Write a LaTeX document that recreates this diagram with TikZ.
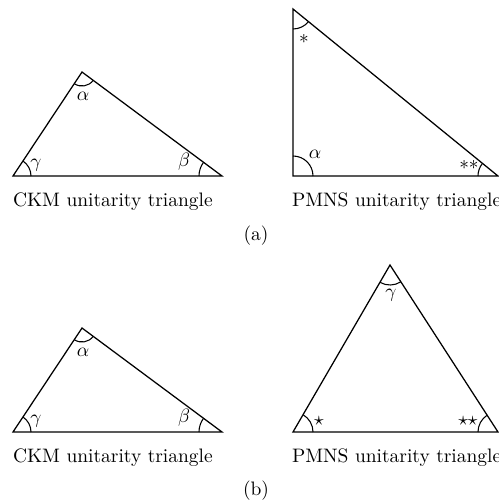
\documentclass[tikz,border=0pt]{standalone}
\usetikzlibrary{angles}
\begin{document}
\begin{tikzpicture}[x=0.5176pt,y=-0.5176pt,
  every node/.style={font=\fontsize{10.08}{12.1}\selectfont},
  side/.style={line width=0.65pt},
  ang/.style={draw,line width=0.55pt},
  lbl/.style={inner sep=0pt,outer sep=0pt},
  captext/.style={inner sep=0pt,outer sep=0pt,anchor=base west}]
\clip (0,0) rectangle (499,503);
\useasboundingbox (0,0) rectangle (499,503);
% ---------- (a) CKM ----------
\coordinate (ca1) at (13,176);
\coordinate (cb1) at (82,72);
\coordinate (cc1) at (222,176);
\draw[side] (ca1) -- (cb1) -- (cc1) -- cycle;
\pic[ang, angle radius=18*0.5176pt] {angle = cc1--ca1--cb1};
\pic[ang, angle radius=14*0.5176pt] {angle = ca1--cb1--cc1};
\pic[ang, angle radius=23*0.5176pt] {angle = cb1--cc1--ca1};
\node[lbl] (g1) at (36,165) {$\gamma$};
\node[lbl] (al1) at (83,96) {$\alpha$};
\node[lbl] (be1) at (184,162) {$\beta$};
\node[captext] (t1) at (13,206) {CKM unitarity triangle};
% ---------- (a) PMNS ----------
\coordinate (pl1) at (293,176);
\coordinate (pt1) at (293,9);
\coordinate (pr1) at (498,176);
\draw[side] (pl1) -- (pt1) -- (pr1) -- cycle;
\pic[ang, angle radius=20*0.5176pt] {angle = pr1--pl1--pt1};
\pic[ang, angle radius=20*0.5176pt] {angle = pl1--pt1--pr1};
\pic[ang, angle radius=20*0.5176pt] {angle = pt1--pr1--pl1};
\node[lbl] (s1) at (304,39) {$*$};
\node[lbl] (al2) at (315,154) {$\alpha$};
\node[lbl] (ss1) at (469,165) {$**$};
\node[captext] (t2) at (292,206) {PMNS unitarity triangle};
\node[lbl] (A) at (256,236) {(a)};
% ---------- (b) CKM ----------
\coordinate (ca2) at (13,432);
\coordinate (cb2) at (82,328);
\coordinate (cc2) at (222,432);
\draw[side] (ca2) -- (cb2) -- (cc2) -- cycle;
\pic[ang, angle radius=18*0.5176pt] {angle = cc2--ca2--cb2};
\pic[ang, angle radius=14*0.5176pt] {angle = ca2--cb2--cc2};
\pic[ang, angle radius=23*0.5176pt] {angle = cb2--cc2--ca2};
\node[lbl] (g2) at (36,421) {$\gamma$};
\node[lbl] (al3) at (83,352) {$\alpha$};
\node[lbl] (be2) at (184,418) {$\beta$};
\node[captext] (t3) at (13,462) {CKM unitarity triangle};
% ---------- (b) PMNS ----------
\coordinate (pl2) at (293,432);
\coordinate (pt2) at (390,265);
\coordinate (pr2) at (498,432);
\draw[side] (pl2) -- (pt2) -- (pr2) -- cycle;
\pic[ang, angle radius=20*0.5176pt] {angle = pr2--pl2--pt2};
\pic[ang, angle radius=20*0.5176pt] {angle = pl2--pt2--pr2};
\pic[ang, angle radius=20*0.5176pt] {angle = pt2--pr2--pl2};
\node[lbl] (g3) at (391,295) {$\gamma$};
\node[lbl] (st1) at (319,421) {$\star$};
\node[lbl] (st2) at (468,421) {$\star\star$};
\node[captext] (t4) at (292,462) {PMNS unitarity triangle};
\node[lbl] (B) at (256,491) {(b)};
\end{tikzpicture}
\end{document}
